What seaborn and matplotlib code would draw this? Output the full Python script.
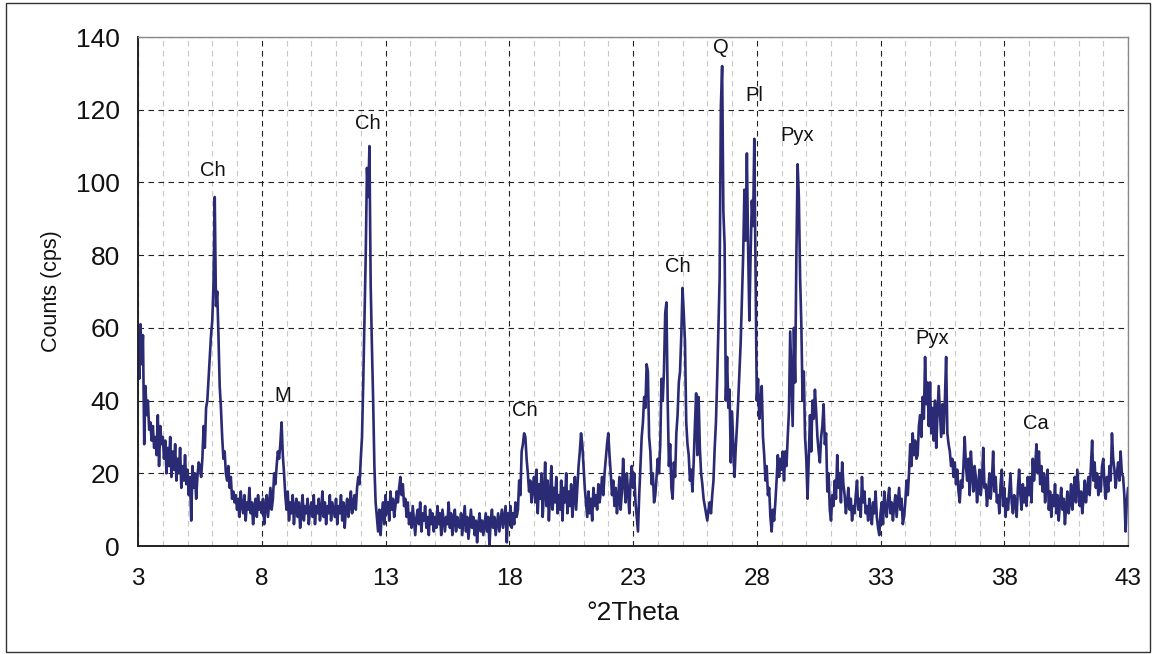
import matplotlib
matplotlib.use("Agg")
import matplotlib.pyplot as plt
import numpy as np
import pandas as pd
import seaborn as sns
from matplotlib import font_manager
from matplotlib.patches import Rectangle
from matplotlib.ticker import MultipleLocator

# XRD scan, 3 - 43 deg 2theta, step 0.05
theta_start = 3.0
theta_end = 43.0
counts = [
    55, 46, 61, 50, 58, 28, 44, 36, 40, 32, 34, 29, 33, 27, 30, 25, 36, 22, 33, 28,  # 3
    30, 24, 29, 20, 27, 22, 30, 19, 26, 21, 28, 18, 24, 20, 27, 16, 22, 18, 25, 17,  # 4
    21, 14, 19, 7, 22, 16, 20, 13, 19, 23, 22, 19, 24, 33, 27, 38, 40, 46, 52, 58,  # 5
    62, 72, 96, 66, 70, 58, 44, 38, 30, 24, 26, 20, 18, 22, 16, 19, 13, 15, 12, 14,  # 6
    10, 13, 8, 15, 11, 9, 14, 7, 12, 10, 16, 9, 12, 6, 11, 13, 8, 14, 10, 12,  # 7
    9, 13, 6, 11, 14, 8, 12, 16, 10, 13, 20, 17, 22, 26, 24, 28, 34, 25, 20, 14,  # 8
    10, 15, 7, 12, 9, 14, 6, 11, 13, 8, 12, 5, 10, 14, 7, 11, 9, 13, 6, 10,  # 9
    12, 8, 14, 6, 11, 9, 13, 7, 10, 15, 8, 12, 6, 11, 9, 14, 7, 12, 10, 8,  # 10
    13, 6, 11, 9, 14, 7, 12, 5, 10, 13, 8, 11, 15, 9, 12, 14, 10, 16, 19, 17,  # 11
    24, 30, 45, 62, 80, 104, 96, 110, 72, 55, 40, 22, 12, 8, 4, 10, 3, 9, 12, 6,  # 12
    14, 9, 12, 7, 15, 10, 13, 8, 11, 15, 12, 16, 19, 14, 17, 11, 13, 8, 12, 6,  # 13
    9, 5, 11, 7, 3, 8, 10, 6, 12, 4, 9, 7, 11, 5, 8, 3, 10, 6, 9, 4,  # 14
    8, 5, 11, 6, 9, 3, 10, 7, 4, 8, 6, 12, 5, 9, 3, 7, 10, 4, 8, 6,  # 15
    5, 9, 3, 7, 11, 4, 8, 2, 6, 10, 5, 8, 3, 7, 1, 6, 9, 4, 7, 3,  # 16
    6, 9, 4, 8, 0, 7, 10, 5, 8, 3, 6, 9, 4, 7, 10, 5, 8, 11, 1, 9,  # 17
    7, 11, 5, 9, 6, 12, 8, 10, 18, 14, 26, 28, 31, 30, 24, 20, 15, 18, 12, 16,  # 18
    19, 12, 21, 9, 17, 13, 20, 8, 15, 23, 11, 18, 7, 14, 22, 10, 16, 12, 19, 9,  # 19
    14, 10, 18, 7, 16, 12, 20, 9, 15, 11, 17, 8, 13, 19, 10, 16, 22, 26, 31, 28,  # 20
    22, 16, 12, 8, 15, 9, 13, 7, 16, 11, 14, 10, 17, 12, 15, 19, 14, 20, 24, 28,  # 21
    31, 25, 20, 14, 18, 11, 16, 9, 13, 19, 10, 15, 24, 17, 12, 20, 15, 9, 18, 22,  # 22
    16, 20, 12, 8, 4, 14, 22, 30, 34, 41, 38, 50, 48, 30, 26, 17, 20, 12, 14, 19,  # 23
    24, 20, 28, 46, 40, 48, 64, 67, 40, 22, 28, 16, 13, 23, 19, 31, 36, 45, 48, 58,  # 24
    71, 64, 56, 34, 28, 25, 18, 21, 15, 23, 33, 42, 25, 41, 27, 20, 17, 13, 11, 9,  # 25
    7, 10, 12, 9, 14, 18, 27, 34, 46, 60, 74, 121, 132, 92, 83, 40, 52, 38, 43, 23,  # 26
    37, 28, 19, 27, 33, 40, 48, 56, 68, 80, 98, 84, 108, 82, 62, 80, 95, 88, 112, 75,  # 27
    40, 46, 35, 39, 44, 30, 25, 18, 22, 14, 16, 8, 4, 10, 7, 12, 18, 25, 19, 24,  # 28
    21, 26, 18, 26, 22, 30, 37, 59, 46, 33, 60, 45, 80, 105, 96, 74, 61, 40, 48, 30,  # 29
    24, 13, 24, 36, 26, 40, 35, 43, 37, 30, 26, 23, 30, 33, 39, 28, 31, 15, 20, 10,  # 30
    7, 14, 11, 18, 13, 25, 16, 20, 12, 23, 17, 14, 9, 12, 16, 10, 13, 7, 11, 9,  # 31
    14, 18, 10, 13, 8, 19, 12, 15, 9, 11, 7, 13, 10, 6, 12, 9, 15, 8, 5, 3,  # 32
    9, 12, 6, 15, 10, 8, 13, 16, 9, 12, 7, 11, 14, 8, 12, 16, 10, 13, 6, 8,  # 33
    12, 18, 14, 20, 28, 22, 31, 25, 29, 24, 25, 33, 36, 30, 41, 35, 52, 39, 45, 33,  # 34
    45, 31, 38, 29, 40, 27, 36, 44, 37, 30, 39, 31, 40, 52, 31, 28, 26, 22, 24, 19,  # 35
    23, 17, 21, 15, 12, 18, 16, 22, 30, 22, 18, 24, 14, 26, 20, 15, 22, 19, 12, 17,  # 36
    21, 14, 18, 27, 16, 17, 11, 15, 20, 13, 18, 26, 15, 19, 12, 14, 9, 17, 21, 11,  # 37
    16, 8, 13, 10, 15, 20, 12, 9, 14, 12, 8, 16, 21, 14, 10, 17, 12, 16, 11, 19,  # 38
    14, 19, 12, 24, 18, 22, 28, 20, 26, 17, 22, 15, 20, 12, 18, 21, 10, 15, 8, 14,  # 39
    11, 17, 9, 14, 7, 12, 16, 10, 13, 6, 11, 15, 9, 12, 17, 10, 14, 19, 12, 21,  # 40
    16, 11, 15, 9, 13, 18, 12, 16, 19, 14, 22, 29, 18, 23, 16, 20, 14, 19, 15, 22,  # 41
    24, 17, 13, 19, 15, 22, 18, 31, 24, 21, 16, 20, 23, 18, 26, 20, 19, 14, 4, 12,  # 42
    16,  # 43
]

x_ticks = [3, 8, 13, 18, 23, 28, 33, 38, 43]

# mineral peak labels
peak_labels = ["Ch", "M", "Ch", "Ch", "Ch", "Q", "Pl", "Pyx", "Pyx", "Ca"]
peak_theta = [6.03, 8.86, 12.29, 18.64, 24.82, 26.56, 27.89, 29.63, 35.08, 39.28]
peak_height = [103.4, 41.5, 116.3, 37.4, 77.0, 137.2, 124.0, 112.8, 57.0, 33.8]

df = pd.DataFrame({
    "theta": np.linspace(theta_start, theta_end, len(counts)),
    "counts": counts,
})

sns.set_theme(style="white")
available = {f.name for f in font_manager.fontManager.ttflist}
plt.rcParams["font.family"] = ["Liberation Sans", "DejaVu Sans"]
narrow = "Liberation Sans Narrow" if "Liberation Sans Narrow" in available else "Liberation Sans"

fig = plt.figure(figsize=(11.54, 6.54), dpi=100)
ax = fig.add_axes([0.1196, 0.1651, 0.8579, 0.7783])

sns.lineplot(data=df, x="theta", y="counts", ax=ax, color="#2a2a75", linewidth=1.9,
             estimator=None, sort=False)

ax.set_xlim(3, 43)
ax.set_ylim(0, 140)
ax.set_xticks(x_ticks)
ax.xaxis.set_minor_locator(MultipleLocator(1))
ax.yaxis.set_major_locator(MultipleLocator(20))

# grid: black dashed majors, light grey dashed minors on x
ax.grid(which="major", axis="both", color="#222222", linestyle=(0, (5, 4)), linewidth=0.8)
ax.grid(which="minor", axis="x", color="#c8c8c8", linestyle=(0, (5, 4)), linewidth=0.8)
ax.set_axisbelow(True)

for side in ["left", "bottom"]:
    ax.spines[side].set_color("#222222")
    ax.spines[side].set_linewidth(1.4)
for side in ["top", "right"]:
    ax.spines[side].set_color("#888888")
    ax.spines[side].set_linewidth(1.0)

ax.tick_params(axis="both", which="both", length=0)
ax.tick_params(axis="y", labelsize=19, pad=13, labelcolor="#111111")
ax.tick_params(axis="x", labelsize=17.5, pad=16, labelcolor="#111111")
for lbl in ax.get_xticklabels():
    lbl.set_family(narrow)

ax.set_xlabel("°2Theta", fontsize=19, family=narrow, labelpad=8, color="#111111")
ax.set_ylabel("Counts (cps)", fontsize=15.5, labelpad=10, color="#111111")

for label, tx, ty in zip(peak_labels, peak_theta, peak_height):
    ax.text(tx, ty, label, ha="center", va="center", fontsize=14.5, color="#111111")

# outer frame around the whole picture
fig.patches.append(Rectangle((6 / 1154, 2 / 654), 1144 / 1154, 649 / 654,
                             transform=fig.transFigure, fill=False,
                             edgecolor="#333333", linewidth=1.0))

fig.savefig("out.png", dpi=100)
